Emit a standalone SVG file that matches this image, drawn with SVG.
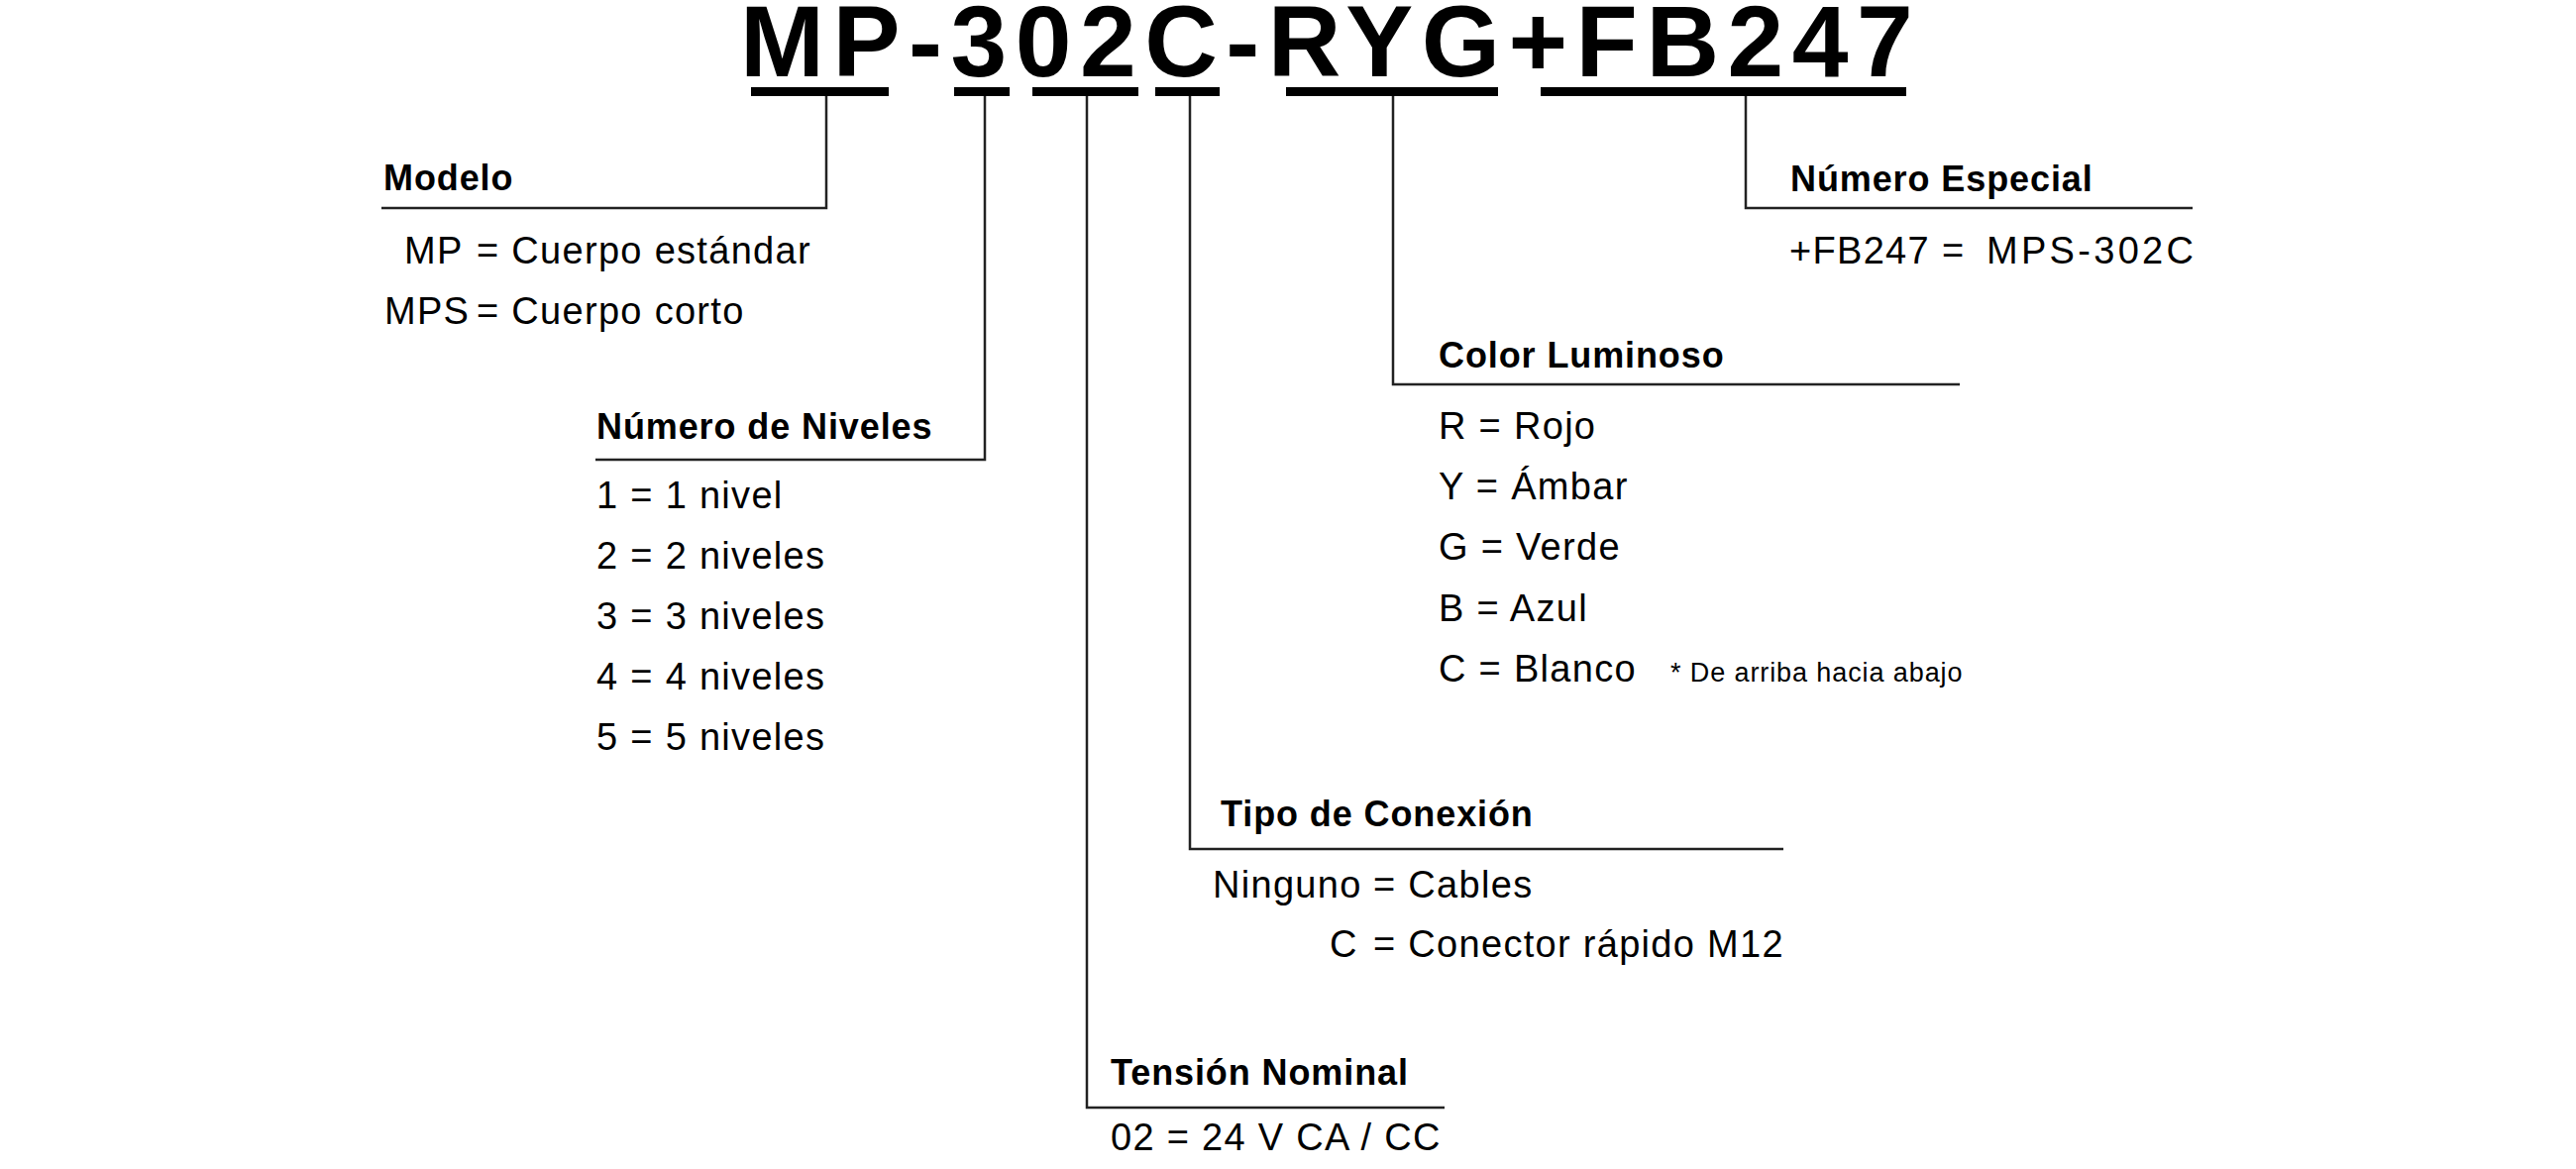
<svg xmlns="http://www.w3.org/2000/svg" width="2600" height="1180" viewBox="0 0 2600 1180">
<style>
.title{font-family:"Liberation Sans",Arial,Helvetica,sans-serif;font-weight:bold;font-size:102px;letter-spacing:8.5px;fill:#000}
.hd{font-family:"Liberation Sans",Arial,Helvetica,sans-serif;font-weight:bold;font-size:36px;letter-spacing:0.9px;fill:#000}
.tx{font-family:"Liberation Sans",Arial,Helvetica,sans-serif;font-size:38px;letter-spacing:1.3px;fill:#000}
.note{font-family:"Liberation Sans",Arial,Helvetica,sans-serif;font-size:27px;letter-spacing:0.9px;fill:#000}
.bar{fill:#000}
.conn{fill:none;stroke:#222;stroke-width:2.5}
</style>
<rect width="2600" height="1180" fill="#fff"/>
<g id="code">
<text class="title" x="747" y="77">MP-302C-RYG+FB247</text>
<rect class="bar" x="758" y="88" width="139" height="9"/>
<rect class="bar" x="963" y="88" width="56" height="9"/>
<rect class="bar" x="1042" y="88" width="107" height="9"/>
<rect class="bar" x="1166" y="88" width="65" height="9"/>
<rect class="bar" x="1298" y="88" width="214" height="9"/>
<rect class="bar" x="1555" y="88" width="369" height="9"/>
</g>
<g id="connectors">
<path class="conn" d="M834 97V210H385"/>
<path class="conn" d="M994 97V464H601"/>
<path class="conn" d="M1097 97V1118H1458"/>
<path class="conn" d="M1201 97V857H1800"/>
<path class="conn" d="M1406 97V388H1978"/>
<path class="conn" d="M1762 97V210H2213"/>
</g>
<g id="modelo">
<text class="hd" x="387" y="192">Modelo</text>
<text class="tx" x="408" y="266">MP <tspan x="481">= Cuerpo estándar</tspan></text>
<text class="tx" x="388" y="327">MPS <tspan x="481">= Cuerpo corto</tspan></text>
</g>
<g id="niveles">
<text class="hd" x="602" y="443">Número de Niveles</text>
<text class="tx" x="602" y="513">1 = 1 nivel</text>
<text class="tx" x="602" y="574">2 = 2 niveles</text>
<text class="tx" x="602" y="635">3 = 3 niveles</text>
<text class="tx" x="602" y="696">4 = 4 niveles</text>
<text class="tx" x="602" y="757">5 = 5 niveles</text>
</g>
<g id="tension">
<text class="hd" x="1121" y="1095">Tensión Nominal</text>
<text class="tx" x="1121" y="1161">02 = 24 V CA / CC</text>
</g>
<g id="conexion">
<text class="hd" x="1232" y="834">Tipo de Conexión</text>
<text class="tx" x="1224" y="906">Ninguno <tspan x="1386">= Cables</tspan></text>
<text class="tx" x="1342" y="966">C <tspan x="1386">= Conector rápido M12</tspan></text>
</g>
<g id="color">
<text class="hd" x="1452" y="371">Color Luminoso</text>
<text class="tx" x="1452" y="443">R = Rojo</text>
<text class="tx" x="1452" y="504">Y = Ámbar</text>
<text class="tx" x="1452" y="565">G = Verde</text>
<text class="tx" x="1452" y="627">B = Azul</text>
<text class="tx" x="1452" y="688">C = Blanco</text>
<text class="note" x="1686" y="688">* De arriba hacia abajo</text>
</g>
<g id="especial">
<text class="hd" x="1807" y="193">Número Especial</text>
<text class="tx" x="1806" y="266">+FB247 <tspan x="1960">=</tspan> <tspan x="2005" letter-spacing="3.3">MPS-302C</tspan></text>
</g>
</svg>
